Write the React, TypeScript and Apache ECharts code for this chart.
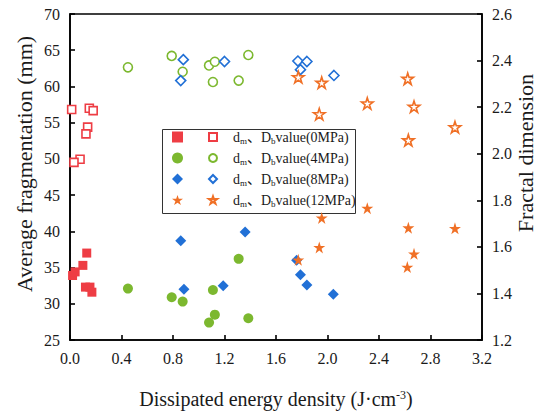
import React, { useEffect, useRef } from "react";
import * as echarts from "echarts";

// ---- data: [dissipated energy density, value] ----
const dm0MPa: [number, number][] = [
  [0.02, 33.9], [0.04, 34.4], [0.10, 35.3], [0.13, 37.0], [0.12, 32.3], [0.155, 32.3], [0.17, 31.6],
];
const db0MPa: [number, number][] = [
  [0.013, 2.19], [0.15, 2.195], [0.18, 2.185], [0.137, 2.114], [0.124, 2.085], [0.078, 1.976], [0.031, 1.963],
];
const dm4MPa: [number, number][] = [
  [0.45, 32.1], [0.79, 30.9], [0.875, 30.3], [1.11, 31.9], [1.125, 28.5], [1.08, 27.4], [1.31, 36.2], [1.385, 28.0],
];
const db4MPa: [number, number][] = [
  [0.45, 2.371], [0.79, 2.42], [0.875, 2.352], [1.08, 2.379], [1.125, 2.395], [1.11, 2.308], [1.385, 2.424], [1.31, 2.314],
];
const dm8MPa: [number, number][] = [
  [0.86, 38.7], [0.885, 32.0], [1.19, 32.5], [1.36, 39.9], [1.76, 36.0], [1.79, 34.0], [1.84, 32.6], [2.045, 31.3],
];
const db8MPa: [number, number][] = [
  [0.88, 2.404], [0.86, 2.314], [1.2, 2.396], [1.77, 2.398], [1.84, 2.396], [1.79, 2.361], [2.05, 2.336],
];
const dm12MPa: [number, number][] = [
  [1.773, 36.07], [1.936, 37.78], [1.955, 41.85], [2.309, 43.2], [2.628, 40.5], [2.99, 40.41], [2.672, 36.89], [2.62, 35.07],
];
const db12MPa: [number, number][] = [
  [1.773, 2.329], [1.955, 2.305], [1.936, 2.17], [2.309, 2.216], [2.623, 2.322], [2.672, 2.202], [2.99, 2.114], [2.628, 2.058],
];

const pressures = ["0MPa", "4MPa", "8MPa", "12MPa"];
const xAxisName = "Dissipated energy density (J·cm";
const leftAxisName = "Average fragmentation (mm)";
const rightAxisName = "Fractal dimension";

const COLORS = ["#ee3d44", "#7cb82f", "#2170d6", "#f07026"];
const FONT = "'Liberation Serif', 'Times New Roman', 'Noto Sans CJK SC', serif";
const STAR =
  "path://M50,0 L61.8,35.4 L100,35.4 L69.1,57.3 L80.9,92.7 L50,70.8 L19.1,92.7 L30.9,57.3 L0,35.4 L38.2,35.4 Z";
const SYMBOLS = ["rect", "circle", "diamond", STAR];
const SIZES = [9, 10, 11, 12];
const HOLLOW_SIZES = [8, 9, 10, 11.5];

export default function App() {
  const ref = useRef<HTMLDivElement>(null);
  useEffect(() => {
    document.body.style.margin = "0";
    if (!ref.current) return;
    const chart = echarts.init(ref.current, undefined, { renderer: "svg" });
    const dmData = [dm0MPa, dm4MPa, dm8MPa, dm12MPa];
    const dbData = [db0MPa, db4MPa, db8MPa, db12MPa];
    const filledNames = pressures.map((p) => "dm " + p);
    const hollowNames = pressures.map((p) => "Db " + p);

    const series: any[] = [];
    pressures.forEach((p, i) => {
      series.push({
        type: "scatter",
        name: filledNames[i],
        yAxisIndex: 0,
        data: dmData[i],
        symbol: SYMBOLS[i],
        symbolSize: SIZES[i],
        itemStyle: { color: COLORS[i], opacity: 1 },
      });
    });
    pressures.forEach((p, i) => {
      series.push({
        type: "scatter",
        name: hollowNames[i],
        yAxisIndex: 1,
        data: dbData[i],
        symbol: SYMBOLS[i],
        symbolSize: HOLLOW_SIZES[i],
        itemStyle: { color: "#ffffff", borderColor: COLORS[i], borderWidth: 1.6, opacity: 1 },
      });
    });

    const axisLabel = { fontFamily: FONT, fontSize: 16, color: "#1a1a1a", margin: 10 };
    const axisLine = { show: true, lineStyle: { color: "#000", width: 1.6 } };
    const axisTick = { show: true, inside: true, length: 5, lineStyle: { color: "#000", width: 1.6 } };
    const legendText = {
      fontFamily: FONT,
      fontSize: 14,
      color: "#1a1a1a",
      lineHeight: 18,
      padding: [0, 0, 0, 8],
      rich: {
        s: { fontFamily: FONT, fontSize: 9, color: "#1a1a1a", verticalAlign: "bottom", lineHeight: 11 },
      },
    };

    chart.setOption({
      animation: false,
      backgroundColor: "#ffffff",
      grid: {
        left: 70, right: 60, top: 14, bottom: 68,
        show: true, borderColor: "#000", borderWidth: 1.6, backgroundColor: "transparent",
      },
      xAxis: {
        type: "value", min: 0, max: 3.2, interval: 0.4,
        axisLine, axisTick, splitLine: { show: false },
        axisLabel: { ...axisLabel, formatter: (v: number) => v.toFixed(1) },
        name: xAxisName + "{sup|-3})",
        nameLocation: "middle",
        nameGap: 49,
        nameTextStyle: {
          fontFamily: FONT, fontSize: 20, color: "#1a1a1a",
          rich: { sup: { fontFamily: FONT, fontSize: 12, color: "#1a1a1a", verticalAlign: "top", lineHeight: 12 } },
        },
      },
      yAxis: [
        {
          type: "value", min: 25, max: 70, interval: 5, position: "left",
          axisLine, axisTick, splitLine: { show: false },
          axisLabel: { ...axisLabel, formatter: (v: number) => String(Math.round(v)) },
        },
        {
          type: "value", min: 1.2, max: 2.6, interval: 0.2, position: "right",
          axisLine, axisTick, splitLine: { show: false },
          axisLabel: { ...axisLabel, formatter: (v: number) => v.toFixed(1) },
        },
      ],
      legend: [
        {
          data: filledNames, orient: "vertical", left: 172, top: 128, padding: 0,
          itemWidth: 11, itemHeight: 11, itemGap: 3, selectedMode: false,
          formatter: () => " ",
          textStyle: legendText,
        },
        {
          data: hollowNames, orient: "vertical", left: 208, top: 128, padding: 0,
          itemWidth: 8, itemHeight: 8, itemGap: 3, selectedMode: false,
          formatter: (name: string) => "d{s|m}、D{s|b}value(" + name.slice(3) + ")",
          textStyle: { ...legendText, padding: [0, 0, 0, 11] },
        },
      ],
      graphic: [
        {
          type: "rect", left: 160, top: 127, z: 0,
          shape: { width: 193, height: 84 },
          style: { fill: "none", stroke: "#333", lineWidth: 1 },
        },
        {
          type: "text", x: 24, y: 164, rotation: Math.PI / 2,
          style: { text: leftAxisName, font: `22px ${FONT}`, fill: "#1a1a1a", align: "center", verticalAlign: "middle" },
        },
        {
          type: "text", x: 525, y: 153, rotation: Math.PI / 2,
          style: { text: rightAxisName, font: `22px ${FONT}`, fill: "#1a1a1a", align: "center", verticalAlign: "middle" },
        },
      ],
      series,
    });
    return () => chart.dispose();
  }, []);
  return (
    <div
      ref={ref}
      style={{ width: 542, height: 414, position: "fixed", left: 0, top: 0, background: "#fff" }}
    />
  );
}
